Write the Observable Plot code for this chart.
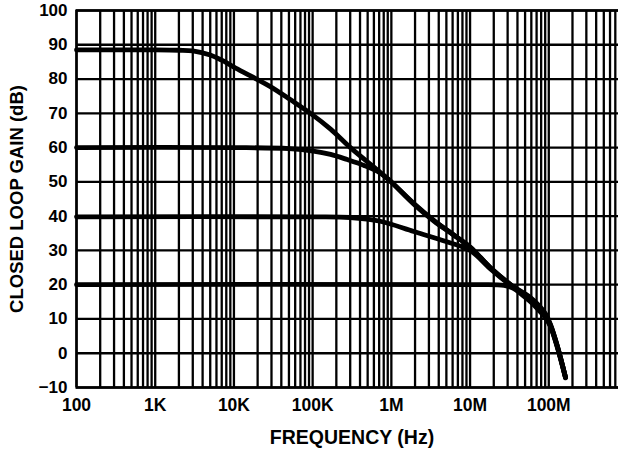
<!DOCTYPE html>
<html><head><meta charset="utf-8">
<script src="https://cdn.jsdelivr.net/npm/d3@7"></script>
<script src="https://cdn.jsdelivr.net/npm/@observablehq/plot@0.6"></script>
<style>
body{margin:0;background:#fff}
#chart text{fill:#000}
[aria-label="x-axis tick label"] text{font-size:17.5px}
[aria-label="y-axis tick label"] text{font-size:17px}
[aria-label="x-axis label"] text{font-size:19.5px}
[aria-label="y-axis label"] text{font-size:18.5px}
</style>
</head><body><div id="chart"></div>
<script>
// x-axis decades and labels
const xTickValues = [100, 1e3, 1e4, 1e5, 1e6, 1e7, 1e8];
const xTickLabels = ["100", "1K", "10K", "100K", "1M", "10M", "100M"];
const yTicks = [-10, 0, 10, 20, 30, 40, 50, 60, 70, 80, 90, 100];

// Curve: 88 dB closed-loop gain
const freq88 = [100, 1000, 2000, 3000, 5000, 7000, 10000, 16000, 29000, 52000, 94000, 169000, 302000, 890000, 1.93e6, 3.5e6, 6.2e6, 1e7, 1.8e7, 3.27e7, 5.86e7, 9.1e7, 1.05e8, 1.28e8, 1.63e8];
const gain88 = [88.5, 88.5, 88.4, 88.2, 87, 85.5, 83.5, 81, 77.8, 74, 70, 65.4, 60, 51, 43.7, 38.7, 34.5, 31, 25, 20, 16.2, 11.5, 8.4, 2.2, -7];
// Curve: 60 dB
const freq60 = [100, 10000, 50000, 102000, 169000, 275000, 450000, 661000, 890000, 1.93e6, 3.5e6, 6.2e6, 1e7, 1.8e7, 3.27e7, 5.86e7, 9.1e7, 1.05e8, 1.28e8, 1.63e8];
const gain60 = [60, 60, 59.7, 59, 58, 56.5, 54.8, 53.1, 51, 43.5, 38.5, 34.5, 31, 25, 20, 15.8, 11, 8.2, 2.2, -7];
// Curve: 40 dB
const freq40 = [100, 100000, 300000, 720000, 1.93e6, 5.07e6, 1e7, 1.8e7, 3.27e7, 5.86e7, 9.1e7, 1.05e8, 1.28e8, 1.63e8];
const gain40 = [39.8, 39.8, 39.6, 38.5, 35.5, 32.5, 30, 24.7, 19.8, 15.5, 10.8, 8, 2, -7];
// Curve: 20 dB
const freq20 = [100, 1e7, 2.7e7, 3.5e7, 4.5e7, 5.86e7, 7.5e7, 9.1e7, 1.05e8, 1.28e8, 1.63e8];
const gain20 = [20, 20, 19.8, 19, 17.2, 15, 12.5, 10.3, 7.8, 1.8, -7.2];

const series = [
  {freq: freq88, gain: gain88},
  {freq: freq60, gain: gain60},
  {freq: freq40, gain: gain40},
  {freq: freq20, gain: gain20}
];

const gridX = [];
for (const d of xTickValues) for (let m = 1; m <= 9; m++) gridX.push(d * m);
gridX.push(1e9);

const lineMarks = series.map(s =>
  Plot.line(s.freq.map((f, i) => ({f, g: s.gain[i]})), {
    x: "f", y: "g", stroke: "black", strokeWidth: 4.8, curve: "catmull-rom"
  })
);

const chart = Plot.plot({
  width: 618, height: 450,
  marginLeft: 76, marginRight: -9, marginTop: 10, marginBottom: 63,
  style: {fontFamily: "'Liberation Sans', Arial, sans-serif", fontWeight: "bold", fontSize: "16px", color: "black", background: "white"},
  x: {type: "log", domain: [100, 1e9]},
  y: {domain: [-10, 100]},
  marks: [
    Plot.ruleX(gridX, {stroke: "black", strokeWidth: 2.3}),
    Plot.ruleY(yTicks, {stroke: "black", strokeWidth: 2.3}),
    Plot.frame({stroke: "black", strokeWidth: 2.3}),
    ...lineMarks,
    Plot.axisX(xTickValues, {tickSize: 0, tickPadding: 11, tickFormat: d => xTickLabels[xTickValues.indexOf(d)], label: "FREQUENCY (Hz)", labelAnchor: "center", labelArrow: "none", labelOffset: 56}),
    Plot.axisY(yTicks, {tickSize: 0, tickPadding: 9, label: "CLOSED LOOP GAIN (dB)", labelAnchor: "center", labelArrow: "none", labelOffset: 67})
  ]
});
document.getElementById("chart").appendChild(chart);
</script>
</body></html>
